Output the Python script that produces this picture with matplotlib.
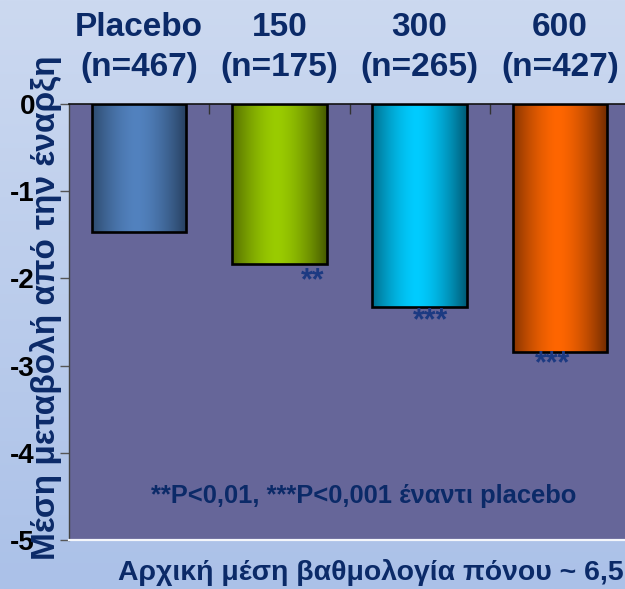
import numpy as np
import matplotlib
matplotlib.use("Agg")
import matplotlib.pyplot as plt
from matplotlib.colors import to_rgb
from matplotlib.transforms import offset_copy

plt.rcParams['font.family'] = ['Liberation Sans', 'DejaVu Sans']

# Dose groups and mean change from baseline in pain score
groups = ["Placebo", "150", "300", "600"]
group_n = ["(n=467)", "(n=175)", "(n=265)", "(n=427)"]
mean_change = [-1.47, -1.83, -2.33, -2.84]
significance = ["", "**", "***", "***"]
sig_x_shift = [0.0, 0.24, 0.075, -0.05]
sig_y_shift = [0, -13, -10, -9]

y_ticks = [0, -1, -2, -3, -4, -5]
y_ticklabels = ["0", "-1", "-2", "-3", "-4", "-5"]

# (edge shade, centre highlight) for each bar's cylinder-like gradient
bar_shades = [("#263f5e", "#5282bf"),
              ("#465a00", "#9acc00"),
              ("#005a75", "#00ccff"),
              ("#6e2a00", "#ff6600")]

navy = "#0b2a68"

fig = plt.figure(figsize=(6.25, 5.89), dpi=100)

# soft vertical background gradient
bg = fig.add_axes([0, 0, 1, 1], zorder=-10)
top_c = np.array(to_rgb("#ccd9f0"))
bot_c = np.array(to_rgb("#abc1e8"))
t = np.linspace(0, 1, 256)[:, None]
grad = top_c * (1 - t) + bot_c * t
bg.imshow(grad[:, None, :], aspect="auto", extent=[0, 1, 0, 1], origin="upper")
bg.set_axis_off()

ax = fig.add_axes([69 / 625, 49 / 589, 561 / 625, 436 / 589])
ax.set_facecolor("#666699")

x = np.arange(len(groups))
bars = ax.bar(x, mean_change, width=0.674, color="none",
              edgecolor="black", linewidth=1.9, zorder=3)

# horizontal shading inside each bar
u = np.linspace(0, 1, 200)
profile = np.clip(1 - np.abs((u - 0.47) / 0.53) ** 1.6, 0, 1)
for rect, (dark, light) in zip(bars.patches, bar_shades):
    d = np.array(to_rgb(dark))
    l = np.array(to_rgb(light))
    img = d * (1 - profile[:, None]) + l * profile[:, None]
    x0 = rect.get_x()
    w = rect.get_width()
    y0 = rect.get_y()
    h = rect.get_height()
    im = ax.imshow(img[None, :, :], aspect="auto",
                   extent=[x0, x0 + w, y0 + h, y0], zorder=2,
                   interpolation="bilinear")
    im.set_clip_path(rect)

ax.set_xlim(-0.5, len(groups) - 0.5)
ax.set_ylim(-5, 0)

# significance markers just under each bar
for xi, val, sig, dx, dy in zip(x, mean_change, significance,
                                sig_x_shift, sig_y_shift):
    if sig:
        tr = offset_copy(ax.transData, fig=fig, x=0, y=dy, units="points")
        ax.text(xi + dx, val, sig, transform=tr, ha="center", va="center",
                fontsize=22, fontweight="bold", color="#1c3a82", zorder=4)

ax.text(0.525, 0.1, "**P<0,01, ***P<0,001 έναντι placebo",
        transform=ax.transAxes, ha="center", va="center",
        fontsize=18.4, fontweight="bold", color=navy)

# y axis
ax.set_yticks(y_ticks)
ax.set_yticklabels(y_ticklabels, fontsize=20, fontweight="bold", color="black")
ax.tick_params(axis="y", direction="out", length=6.5, width=1,
               color="#555555", pad=18)

# group labels on top, separators as inward minor ticks
ax.xaxis.tick_top()
ax.set_xticks(x)
ax.set_xticklabels([f"{g}\n{n}" for g, n in zip(groups, group_n)],
                   fontsize=24, fontweight="bold", color=navy, linespacing=1.4)
ax.tick_params(axis="x", which="major", length=0, pad=15)
ax.set_xticks(x[:-1] + 0.5, minor=True)
ax.tick_params(axis="x", which="minor", direction="in", length=7.5,
               width=1, color="#333333", top=True, bottom=False)

ax.spines["right"].set_visible(False)
ax.spines["left"].set_color("#444444")
ax.spines["left"].set_linewidth(1)
ax.spines["top"].set_color("#111111")
ax.spines["top"].set_linewidth(1.2)
ax.spines["bottom"].set_color("#f4f6fb")
ax.spines["bottom"].set_linewidth(1.6)

fig.text(46 / 625, 1 - 308 / 589, "Μέση μεταβολή από την έναρξη",
         rotation=90, ha="center", va="center",
         fontsize=24, fontweight="bold", color=navy)

fig.text(118 / 625, 1 - 572 / 589, "Αρχική μέση βαθμολογία πόνου ~ 6,5",
         ha="left", va="center", fontsize=20.4, fontweight="bold", color=navy)

fig.savefig("out.png", dpi=100)
